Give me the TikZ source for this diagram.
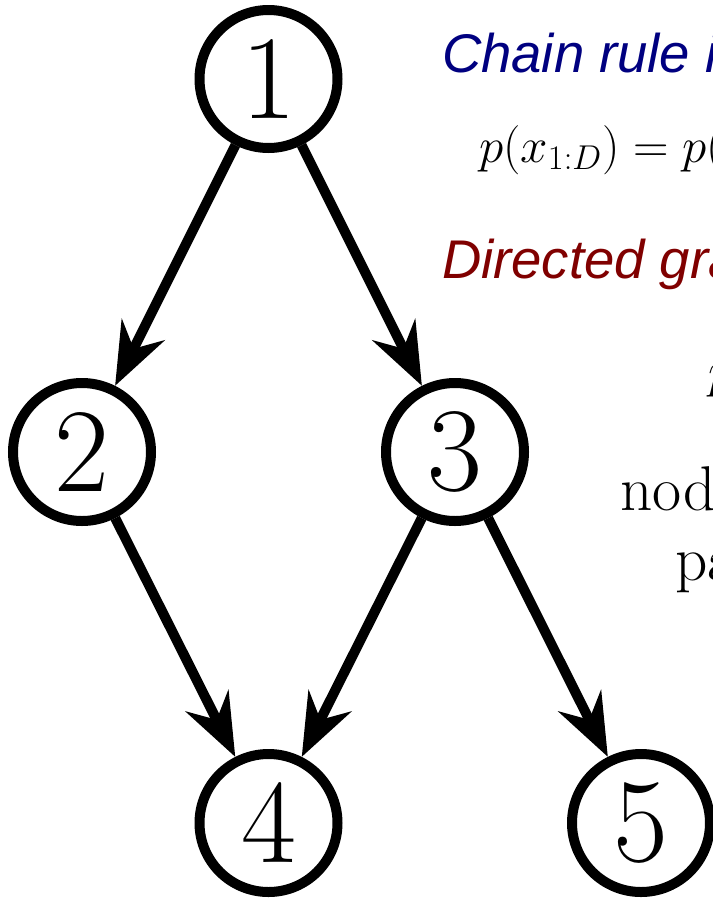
\RequirePackage{fix-cm}
\documentclass[tikz,border=0pt]{standalone}
\usepackage{amsmath}
\usepackage{fontspec}
\usepackage{tikz}
\usetikzlibrary{positioning,arrows.meta,automata}
\newfontfamily\slidesans{Liberation Sans}
\definecolor{chainblue}{RGB}{0,0,128}
\definecolor{dagred}{RGB}{128,0,0}

\begin{document}
\begin{tikzpicture}[->,>={Stealth[length=1.25cm,width=0.95cm,inset=0.42cm]},line width=0.2cm,on grid,
		every state/.style={draw,line width=0.2cm,minimum size=2.76cm,inner sep=0pt,font=\fontsize{68}{68}\selectfont},
		heading/.style={anchor=base west,inner sep=0pt,font=\slidesans\itshape\fontsize{31}{36}\selectfont},
		body/.style={anchor=base west,inner sep=0pt,font=\fontsize{36}{40}\selectfont},
		formula/.style={anchor=base west,inner sep=0pt,font=\fontsize{28}{32}\selectfont}]
		\useasboundingbox (0,0) rectangle (14.26,-17.98);
		\clip (0,0) rectangle (14.26,-17.98);

		\node[state] (n1) at (5.37,-1.58) {1};
		\node[state] (n2) [below left=7.46cm and 3.73cm of n1] {2};
		\node[state] (n3) [below right=7.46cm and 3.73cm of n1] {3};
		\node[state] (n4) [below right=7.42cm and 3.73cm of n2] {4};
		\node[state] (n5) [below right=7.42cm and 3.72cm of n3] {5};

		\path (n1) edge (n2);
		\path (n1) edge (n3);

		\path (n2) edge (n4);

		\path (n3) edge (n4);
		\path (n3) edge (n5);

		\node[heading,text=chainblue] (chain) at (8.74,-1.44) {Chain rule in};
		\node[formula] (chaineq) at (9.48,-3.24) {$p(x_{1:D}) = p($};
		\node[heading,text=dagred] (dag) at (8.74,-5.56) {Directed gra};
		\node[formula] (dageq) at (14.06,-7.74) {$p$};
		\node[body] (nodes) at (12.30,-10.20) {nod};
		\node[body] (parents) at (13.40,-11.60) {pa};
\end{tikzpicture}
\end{document}
